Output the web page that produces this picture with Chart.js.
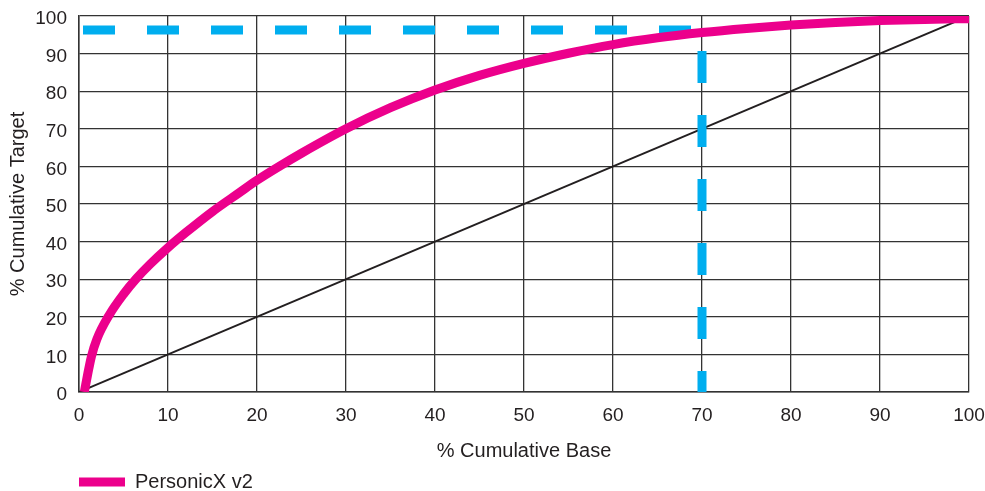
<!DOCTYPE html>
<html>
<head>
<meta charset="utf-8">
<script src="https://cdn.jsdelivr.net/npm/chart.js@4.4.1/dist/chart.umd.min.js"></script>
<style>
  html, body { margin: 0; padding: 0; background: #fff; }
  #wrap { width: 985px; height: 491px; }
</style>
</head>
<body>
<div id="wrap"><canvas id="gains"></canvas></div>
<script>
// values (% cumulative base -> % cumulative target)
const curveBase   = [0.6, 1, 1.4, 2, 3.4, 5, 6.5, 8, 10, 12, 15, 18, 20, 22.5, 25, 30, 35, 40, 45, 50, 55, 60, 65, 70, 75, 80, 85, 90, 95, 100];
const curveTarget = [0, 5, 9.5, 14, 20.5, 26, 30.3, 34, 38.4, 42.4, 48, 53, 56.3, 60, 63.5, 70, 75.6, 80.3, 84.2, 87.4, 90.1, 92.4, 94.2, 95.6, 96.7, 97.6, 98.3, 98.8, 99.1, 99.3];

const randomBase   = [0, 100];
const randomTarget = [0, 100];

// cut-off marker: across at 96.3 to 70, then down to 0
const cutBase   = [0, 70, 70];
const cutTarget = [96.3, 96.3, 0];

const tickValues = [0, 10, 20, 30, 40, 50, 60, 70, 80, 90, 100];

function toPoints(xs, ys) {
    return xs.map((x, i) => ({ x: x, y: ys[i] }));
}

const family = "'Liberation Sans', Arial, sans-serif";
const tickFont = { family: family, size: 19 };
const titleFont = { family: family, size: 20 };
const textColor = '#231f20';
const gridColor = '#333333';

const config = {
    type: 'line',
    data: {
        datasets: [{
            label: 'PersonicX v2',
            data: toPoints(curveBase, curveTarget),
            borderColor: '#ec008c',
            backgroundColor: '#ec008c',
            borderWidth: 9,
            cubicInterpolationMode: 'monotone',
            pointRadius: 0,
        }, {
            label: 'cutoff',
            data: toPoints(cutBase, cutTarget),
            borderColor: '#00aeef',
            borderWidth: 9,
            borderDash: [32, 32],
            borderDashOffset: 60,
            borderCapStyle: 'butt',
            borderJoinStyle: 'miter',
            tension: 0,
            pointRadius: 0,
        }, {
            label: 'random',
            data: toPoints(randomBase, randomTarget),
            borderColor: '#231f20',
            borderWidth: 2,
            tension: 0,
            pointRadius: 0,
        }],
    },
    options: {
        responsive: true,
        maintainAspectRatio: false,
        animation: false,
        layout: {
            padding: { left: 0, right: 0, top: 16, bottom: -11 },
        },
        scales: {
            x: {
                type: 'linear',
                min: 0,
                max: 100,
                afterBuildTicks: (axis) => {
                    axis.ticks = tickValues.map(v => ({ value: v }));
                },
                afterFit: (axis) => {
                    axis.height = 80;
                    axis.paddingRight = 16;
                },
                ticks: {
                    color: textColor,
                    font: tickFont,
                    padding: 12,
                    maxRotation: 0,
                },
                grid: {
                    color: gridColor,
                    lineWidth: 1.3,
                    drawTicks: false,
                },
                border: {
                    color: gridColor,
                    width: 1.5,
                },
                title: {
                    display: true,
                    text: '% Cumulative Base',
                    color: textColor,
                    font: titleFont,
                    padding: { top: 0, bottom: 9 },
                },
            },
            y: {
                min: 0,
                max: 100,
                afterBuildTicks: (axis) => {
                    axis.ticks = tickValues.map(v => ({ value: v }));
                },
                afterFit: (axis) => {
                    axis.width = 79;
                    axis.paddingTop = 0;
                    axis.paddingBottom = 0;
                },
                ticks: {
                    color: textColor,
                    font: tickFont,
                    padding: 12,
                    labelOffset: 3,
                },
                grid: {
                    color: gridColor,
                    lineWidth: 1.3,
                    drawTicks: false,
                },
                border: {
                    color: gridColor,
                    width: 1.5,
                },
                title: {
                    display: true,
                    text: '% Cumulative Target',
                    color: textColor,
                    font: titleFont,
                    padding: { top: 6, bottom: 2 },
                },
            },
        },
        plugins: {
            legend: {
                position: 'bottom',
                align: 'start',
                fullSize: false,
                labels: {
                    color: textColor,
                    font: titleFont,
                    boxWidth: 46,
                    boxHeight: 9,
                    padding: 0,
                    generateLabels: (chart) => {
                        const items = Chart.defaults.plugins.legend.labels.generateLabels(chart);
                        return items
                            .filter(item => item.datasetIndex === 0)
                            .map(item => Object.assign(item, { lineWidth: 0 }));
                    },
                },
            },
            tooltip: {
                enabled: false,
            },
        },
    },
};

new Chart(document.getElementById('gains'), config);
</script>
</body>
</html>
